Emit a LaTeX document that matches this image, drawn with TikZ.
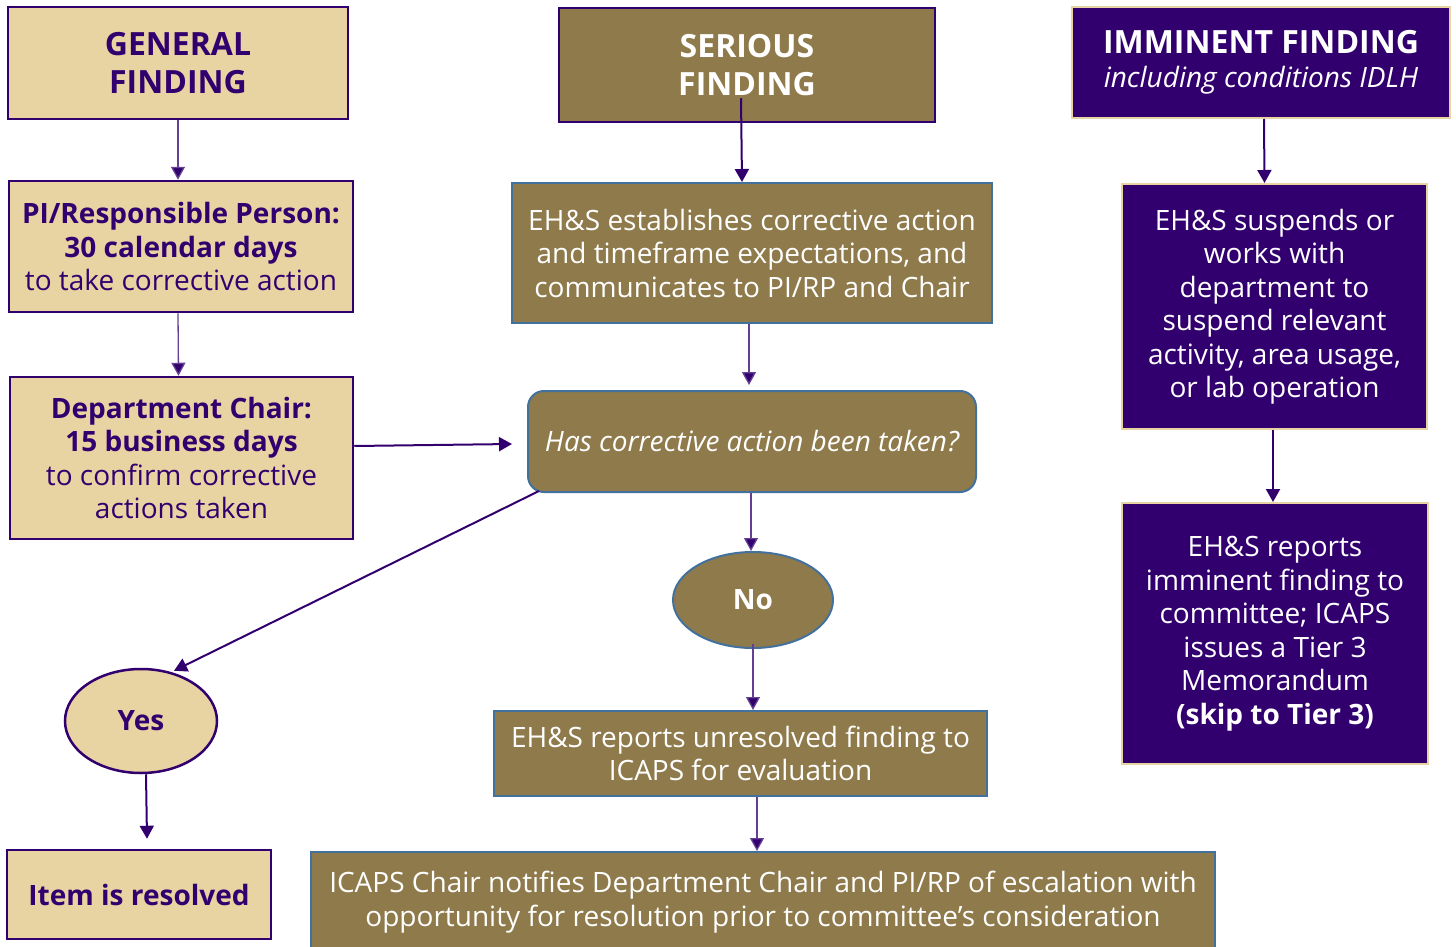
\documentclass[tikz,border=0pt]{standalone}
\usepackage{fontspec}
\setmainfont{Open Sans}
\usetikzlibrary{arrows.meta,shapes.geometric}
\definecolor{uwgold}{HTML}{E8D3A2}
\definecolor{uwpurple}{HTML}{32006E}
\definecolor{uwbrown}{HTML}{8F7A4B}
\definecolor{uwblue}{HTML}{41719C}
\tikzset{
  base/.style={align=center, inner sep=0pt, font=\fontsize{28}{33.5}\selectfont},
  goldbox/.style={base, rectangle, draw=uwpurple, line width=2.5pt, fill=uwgold, text=uwpurple},
  brownbox/.style={base, rectangle, draw=uwblue, line width=2pt, fill=uwbrown, text=white},
  headbrown/.style={base, rectangle, draw=uwpurple, line width=2.5pt, fill=uwbrown, text=white},
  purplebox/.style={base, rectangle, draw=uwgold, line width=2pt, fill=uwpurple, text=white},
  arr/.style={draw=uwpurple, line width=2pt, -{Triangle[length=13pt,width=14pt]}},
  thinarr/.style={draw=uwpurple!75, line width=1.3pt, -{Triangle[length=13pt,width=14pt,fill=uwpurple]}},
  hfont/.style={font=\fontsize{32}{38}\selectfont\bfseries},
  bfont/.style={font=\fontsize{28}{33}\selectfont\bfseries},
}
\begin{document}
\begin{tikzpicture}[x=1pt,y=-1pt]
\useasboundingbox (0,0) rectangle (1456,947);
\begin{scope}
\clip (0,0) rectangle (1456,947);
% left column
\node[goldbox, hfont, minimum width=340pt, minimum height=112pt] (general) at (178,63) {GENERAL\\FINDING};
\node[goldbox, minimum width=344pt, minimum height=131pt] (pi) at (181,246.5) {\textbf{PI/Responsible Person:}\\\textbf{30 calendar days}\\to take corrective action};
\node[goldbox, minimum width=343pt, minimum height=162pt] (dept) at (181.5,458) {\textbf{Department Chair:}\\\textbf{15 business days}\\to confirm corrective\\actions taken};
\node[goldbox, ellipse, bfont, minimum width=152pt, minimum height=104pt] (yes) at (141,721) {Yes};
\node[goldbox, bfont, minimum width=264pt, minimum height=89pt] (item) at (139,894.5) {Item is resolved};
% middle column
\node[headbrown, hfont, minimum width=376pt, minimum height=114pt] (serious) at (747,65) {SERIOUS\\FINDING};
\node[brownbox, minimum width=480pt, minimum height=140pt] (est) at (752,253) {EH\&S establishes corrective action\\and timeframe expectations, and\\communicates to PI/RP and Chair};
\node[brownbox, rounded corners=16pt, minimum width=448pt, minimum height=101pt] (has) at (752,441.5) {\itshape Has corrective action been taken?};
\node[brownbox, ellipse, bfont, minimum width=160pt, minimum height=96pt] (no) at (753,600) {No};
\node[brownbox, minimum width=493pt, minimum height=85pt] (unres) at (740.5,753.5) {EH\&S reports unresolved finding to\\ICAPS for evaluation};
\node[brownbox, minimum width=904pt, minimum height=100pt] (icaps) at (763,902) {ICAPS Chair notifies Department Chair and PI/RP of escalation with\\opportunity for resolution prior to committee’s consideration};
% right column
\node[purplebox, minimum width=378pt, minimum height=111pt] (imm) at (1261,62.5) {{\fontsize{32}{37}\selectfont\bfseries IMMINENT FINDING}\\\itshape including conditions IDLH};
\node[purplebox, minimum width=305pt, minimum height=245pt] (susp) at (1274.5,306.5) {EH\&S suspends or\\works with\\department to\\suspend relevant\\activity, area usage,\\or lab operation};
\node[purplebox, minimum width=306pt, minimum height=261pt] (rep) at (1275,633.5) {EH\&S reports\\imminent finding to\\committee; ICAPS\\issues a Tier 3\\Memorandum\\\textbf{(skip to Tier 3)}};
% connectors
\draw[thinarr] (general.south) -- (pi.north -| general.south);
\draw[thinarr] ([xshift=-3pt]pi.south) -- ([xshift=-3pt]dept.north);
\draw[arr] ([yshift=12pt]dept.east) -- ([xshift=-15pt,yshift=-2.5pt]has.west);
\draw[arr] ([xshift=12pt,yshift=2pt]has.south west) -- ([xshift=33pt,yshift=-3pt]yes.north);
\draw[arr] ([xshift=5pt]yes.south) -- ([xshift=8pt,yshift=10pt]item.north);
\draw[arr] ([xshift=-6pt,yshift=25pt]serious.south) -- ([xshift=-10pt]est.north);
\draw[thinarr] ([xshift=-3pt]est.south) -- ([xshift=-3pt,yshift=5pt]has.north);
\draw[thinarr] ([xshift=-1pt]has.south) -- ([xshift=-2pt]no.north);
\draw[thinarr] ([yshift=5pt]no.south) -- ([xshift=12.5pt]unres.north);
\draw[thinarr] ([xshift=16.5pt]unres.south) -- ([xshift=-6pt]icaps.north);
\draw[arr] ([xshift=3pt]imm.south) -- ([xshift=-10pt]susp.north);
\draw[arr] ([xshift=-1.5pt]susp.south) -- ([xshift=-2pt]rep.north);
\end{scope}
\end{tikzpicture}
\end{document}
